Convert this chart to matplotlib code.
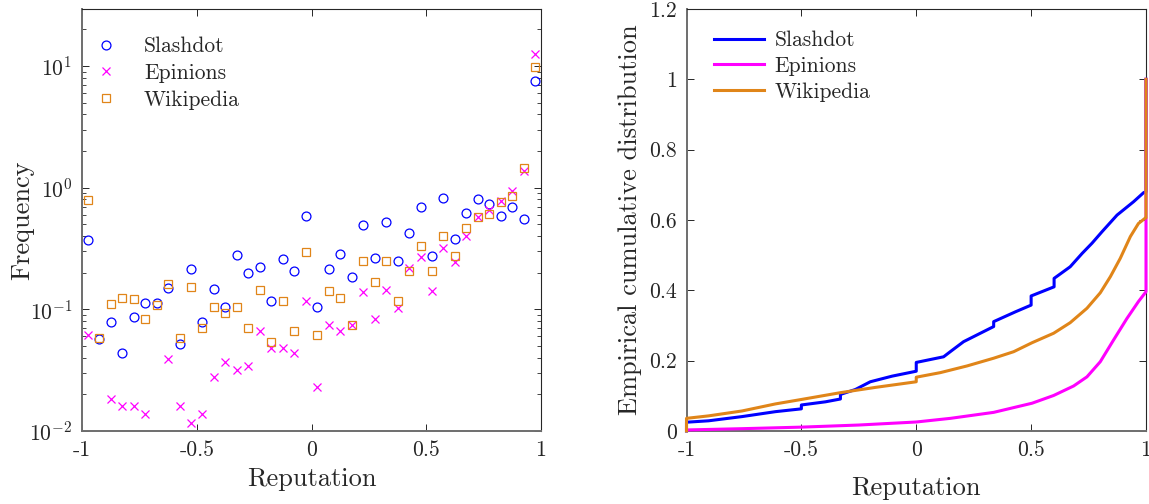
import numpy as np
import matplotlib
matplotlib.use("Agg")
import matplotlib.pyplot as plt

plt.rcParams['font.family'] = ['cmr10', 'DejaVu Serif']
plt.rcParams['mathtext.fontset'] = 'cm'
plt.rcParams['axes.formatter.use_mathtext'] = True
plt.rcParams['axes.unicode_minus'] = False
plt.rcParams['text.color'] = '#262626'
plt.rcParams['axes.labelcolor'] = '#262626'
plt.rcParams['xtick.color'] = '#262626'
plt.rcParams['ytick.color'] = '#262626'

# ---------------- data: left panel (histogram frequencies, bins of width 0.05) ----------------
bin_centers = [-0.975, -0.925, -0.875, -0.825, -0.775, -0.725, -0.675, -0.625, -0.575, -0.525,
               -0.475, -0.425, -0.375, -0.325, -0.275, -0.225, -0.175, -0.125, -0.075, -0.025,
               0.025, 0.075, 0.125, 0.175, 0.225, 0.275, 0.325, 0.375, 0.425, 0.475,
               0.525, 0.575, 0.625, 0.675, 0.725, 0.775, 0.825, 0.875, 0.925, 0.975]
slashdot_freq = [0.37, 0.057, 0.078, 0.0435, 0.087, 0.112, 0.112, 0.151, 0.052, 0.214,
                 0.078, 0.148, 0.105, 0.277, 0.20, 0.223, 0.118, 0.261, 0.206, 0.58,
                 0.105, 0.214, 0.284, 0.186, 0.494, 0.266, 0.52, 0.251, 0.427, 0.70,
                 0.273, 0.82, 0.38, 0.62, 0.81, 0.73, 0.59, 0.70, 0.557, 7.5]
epinions_freq = [0.0615, np.nan, 0.0183, 0.0161, 0.0161, 0.0138, np.nan, 0.039, 0.0161, 0.0116,
                 0.0138, 0.0277, 0.0367, 0.0318, 0.0344, 0.0664, 0.0479, 0.0479, 0.0435, 0.116,
                 0.0229, 0.0745, 0.066, 0.0745, 0.139, 0.083, 0.145, 0.102, 0.218, 0.271,
                 0.142, 0.321, 0.247, 0.40, 0.57, 0.66, 0.78, 0.946, 1.36, 12.6]
wikipedia_freq = [0.79, 0.058, 0.111, 0.123, 0.121, 0.083, 0.109, 0.162, 0.058, 0.154,
                  0.070, 0.105, 0.094, 0.105, 0.070, 0.143, 0.054, 0.116, 0.066, 0.296,
                  0.0615, 0.142, 0.124, 0.0745, 0.251, 0.167, 0.251, 0.116, 0.207, 0.334,
                  0.206, 0.404, 0.275, 0.465, 0.57, 0.605, 0.76, 0.857, 1.45, 9.8]

# ---------------- data: right panel (empirical CDF) ----------------
slashdot_cdf_x = [-1, -1, -0.904, -0.758, -0.613, -0.5, -0.5, -0.395, -0.33, -0.33, -0.265, -0.2,
                  -0.105, 0, 0, 0.119, 0.149, 0.206, 0.279, 0.337, 0.337, 0.432, 0.5, 0.5,
                  0.6, 0.6, 0.67, 0.722, 0.765, 0.809, 0.874, 0.946, 0.99, 1, 1]
slashdot_cdf_y = [0, 0.025, 0.029, 0.041, 0.055, 0.063, 0.074, 0.083, 0.091, 0.104, 0.118, 0.14,
                  0.156, 0.170, 0.195, 0.211, 0.226, 0.254, 0.278, 0.297, 0.311, 0.339, 0.358, 0.384,
                  0.410, 0.434, 0.467, 0.505, 0.534, 0.567, 0.614, 0.652, 0.678, 0.68, 1.0]
epinions_cdf_x = [-1, -0.758, -0.5, -0.25, 0, 0.149, 0.337, 0.504, 0.598, 0.685, 0.743, 0.801,
                  0.859, 0.917, 0.967, 1.0, 1.0]
epinions_cdf_y = [0.003, 0.0066, 0.011, 0.017, 0.0256, 0.036, 0.053, 0.079, 0.101, 0.128, 0.154,
                  0.197, 0.259, 0.320, 0.368, 0.396, 1.0]
wikipedia_cdf_x = [-1, -1, -0.904, -0.758, -0.613, -0.497, -0.33, -0.178, 0, 0, 0.105, 0.221,
                   0.337, 0.424, 0.504, 0.598, 0.67, 0.743, 0.801, 0.845, 0.888, 0.932, 0.967,
                   0.996, 1, 1]
wikipedia_cdf_y = [0, 0.036, 0.043, 0.057, 0.077, 0.090, 0.109, 0.124, 0.140, 0.153, 0.166, 0.185,
                   0.207, 0.2255, 0.251, 0.278, 0.308, 0.349, 0.393, 0.439, 0.491, 0.553, 0.590,
                   0.605, 0.606, 1.0]

colors = {'Slashdot': '#0000FF', 'Epinions': '#FF00FF', 'Wikipedia': '#E08519'}

x_ticks = [-1, -0.5, 0, 0.5, 1]
x_ticklabels = ['-1', '-0.5', '0', '0.5', '1']
cdf_yticks = [0, 0.2, 0.4, 0.6, 0.8, 1, 1.2]
cdf_yticklabels = ['0', '0.2', '0.4', '0.6', '0.8', '1', '1.2']

W, H = 1149, 504
fig = plt.figure(figsize=(W / 100, H / 100), dpi=100)
ax1 = fig.add_axes([82 / W, 73 / H, 459 / W, 422 / H])
ax2 = fig.add_axes([686.5 / W, 73 / H, 459.5 / W, 422 / H])

TICK_FS = 15.6
LABEL_FS = 19
LEG_FS = 15.5

# ---- left panel ----
ax1.plot(bin_centers, slashdot_freq, linestyle='none', marker='o', ms=6.4, mfc='none',
         mec=colors['Slashdot'], mew=0.9, label='Slashdot')
ax1.plot(bin_centers, epinions_freq, linestyle='none', marker='x', ms=5.8,
         mec=colors['Epinions'], mew=0.9, label='Epinions')
ax1.plot(bin_centers, wikipedia_freq, linestyle='none', marker='s', ms=5.6, mfc='none',
         mec=colors['Wikipedia'], mew=0.9, label='Wikipedia')
ax1.set_yscale('log')
ax1.set_xlim(-1, 1)
ax1.set_ylim(0.01, 29.4)
ax1.set_xticks(x_ticks)
ax1.set_xticklabels(x_ticklabels)
ax1.set_xlabel('Reputation', fontsize=LABEL_FS, va='center')
ax1.xaxis.set_label_coords(0.5, (431 - 479) / 422)
ax1.set_ylabel('Frequency', fontsize=LABEL_FS, va='center')
ax1.yaxis.set_label_coords((22 - 82) / 459, 0.5)
ax1.legend(loc='upper left', bbox_to_anchor=(-0.022, 0.985), frameon=False, fontsize=LEG_FS,
           handletextpad=1.15, labelspacing=0.33, borderaxespad=0.6, handlelength=1.2)

# ---- right panel ----
ax2.plot(slashdot_cdf_x, slashdot_cdf_y, color=colors['Slashdot'], lw=2.2, label='Slashdot',
         clip_on=False, zorder=3)
ax2.plot(epinions_cdf_x, epinions_cdf_y, color=colors['Epinions'], lw=2.2, label='Epinions',
         clip_on=False, zorder=3)
ax2.plot(wikipedia_cdf_x, wikipedia_cdf_y, color=colors['Wikipedia'], lw=2.2, label='Wikipedia',
         clip_on=False, zorder=3)
ax2.set_xlim(-1, 1)
ax2.set_ylim(0, 1.2)
ax2.set_xticks(x_ticks)
ax2.set_xticklabels(x_ticklabels)
ax2.set_yticks(cdf_yticks)
ax2.set_yticklabels(cdf_yticklabels)
ax2.set_xlabel('Reputation', fontsize=LABEL_FS, va='center')
ax2.xaxis.set_label_coords(0.5, (431 - 488) / 422)
ax2.set_ylabel('Empirical cumulative distribution', fontsize=LABEL_FS, va='center')
ax2.yaxis.set_label_coords((630 - 686.5) / 459.5, 0.5)
ax2.legend(loc='upper left', bbox_to_anchor=(0.013, 1.0), frameon=False, fontsize=LEG_FS,
           handletextpad=0.5, labelspacing=0.3, borderaxespad=0.6, handlelength=2.3)

for ax in (ax1, ax2):
    ax.tick_params(which='both', direction='in', top=True, right=True, labelsize=TICK_FS, pad=7)
    ax.tick_params(which='major', length=5, width=0.7)
    ax.tick_params(which='minor', length=3, width=0.6)
    for side, sp in ax.spines.items():
        sp.set_color('#262626')
        sp.set_linewidth(0.8)
    for side in ('left', 'bottom'):
        ax.spines[side].set_color('#6e6e6e')
        ax.spines[side].set_linewidth(1.4)

fig.savefig('out.png', dpi=100)
